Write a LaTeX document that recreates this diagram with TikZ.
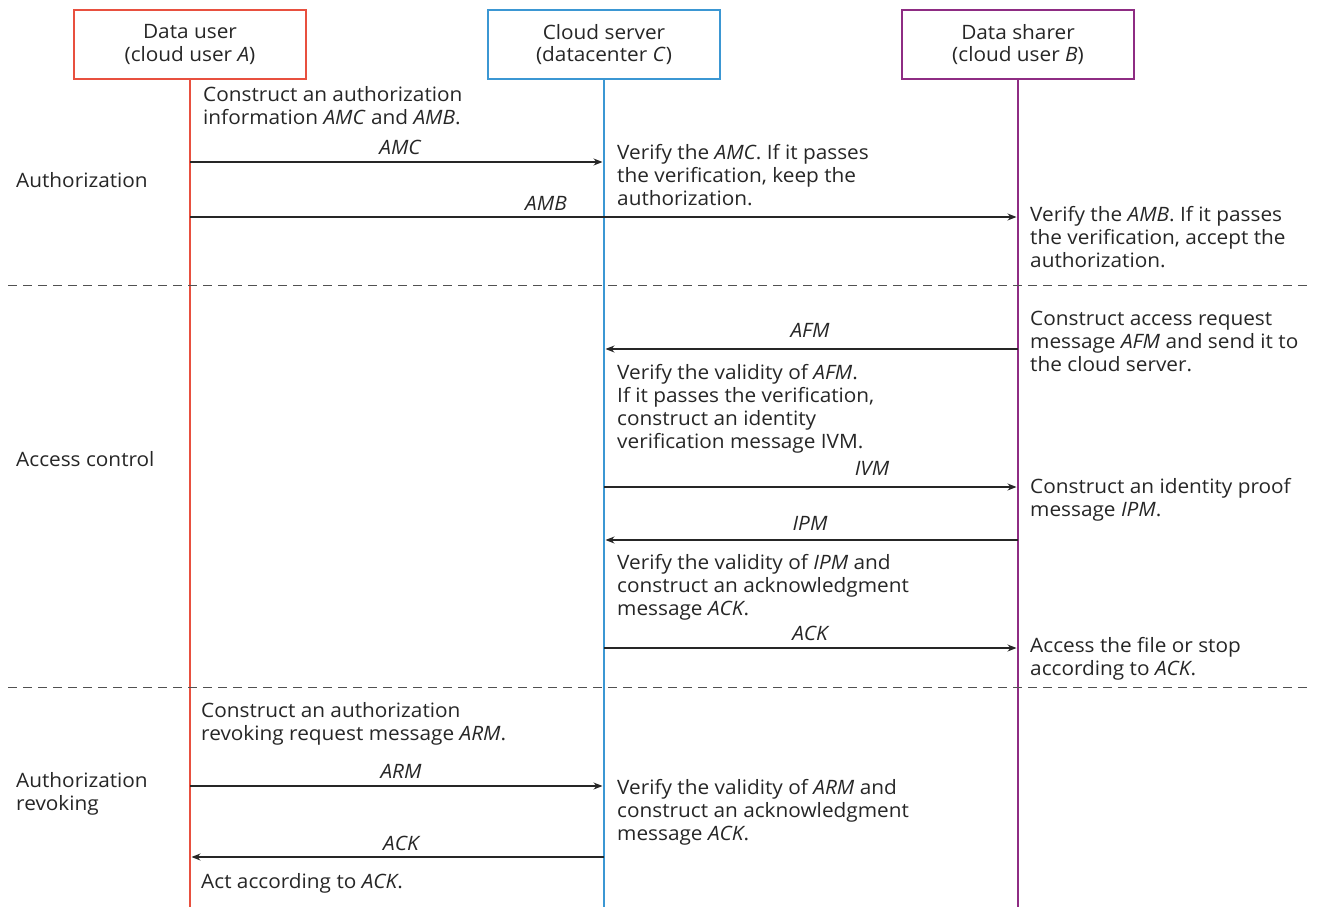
\documentclass[tikz,border=0pt]{standalone}
\usepackage{fontspec}
\setmainfont{Open Sans}[FakeStretch=1.05]
\usetikzlibrary{arrows.meta}
\definecolor{cred}{HTML}{E8503F}
\definecolor{cblue}{HTML}{3B97D3}
\definecolor{cpurp}{HTML}{8E2C83}
\definecolor{ctext}{HTML}{262626}
\newcommand{\mainfs}{\fontsize{19.8}{22.7}\selectfont}
\tikzset{
  actor/.style={draw=#1, line width=2.6pt, minimum width=232pt, minimum height=69pt, align=center, inner sep=0pt, text=ctext},
  life/.style={draw=#1, line width=2pt},
  txt/.style={anchor=base west, align=left, inner sep=0pt, text=ctext},
  lbl/.style={anchor=base, inner sep=0pt, text=ctext, font=\mainfs\itshape},
  msg/.style={draw=ctext, line width=1.1pt, -{Stealth[length=9pt,width=7pt]}, shorten >=1.5pt},
  sep/.style={draw=ctext!80, line width=1pt, dash pattern=on 9pt off 6pt},
}
\begin{document}
\begin{tikzpicture}[x=1pt,y=-1pt, font=\mainfs]
\useasboundingbox (0,0) rectangle (1317,907);
% actors
\node[actor=cred] (A) at (190,44.5) {Data user\\(cloud user \textit{A})};
\node[actor=cblue] (C) at (604,44.5) {Cloud server\\(datacenter \textit{C})};
\node[actor=cpurp] (B) at (1018,44.5) {Data sharer\\(cloud user \textit{B})};
\coordinate (Aend) at (190,907);
\coordinate (Cend) at (604,907);
\coordinate (Bend) at (1018,907);
\draw[life=cred] (A.south) -- (Aend);
\draw[life=cblue] (C.south) -- (Cend);
\draw[life=cpurp] (B.south) -- (Bend);
% separators
\coordinate (s1l) at (8,285); \coordinate (s1r) at (1308,285);
\coordinate (s2l) at (8,687); \coordinate (s2r) at (1308,687);
\draw[sep] (s1l) -- (s1r);
\draw[sep] (s2l) -- (s2r);
% phase labels (position = baseline of last line)
\node[txt] (p1) at (16,187) {Authorization};
\node[txt] (p2) at (16,466) {Access control};
\node[txt] (p3) at (16,810) {Authorization\\revoking};
% messages coordinates
\coordinate (m1a) at (190,162); \coordinate (m1c) at (604,162);
\coordinate (m2a) at (190,217); \coordinate (m2b) at (1018,217);
\coordinate (m3b) at (1018,349); \coordinate (m3c) at (604,349);
\coordinate (m4c) at (604,487); \coordinate (m4b) at (1018,487);
\coordinate (m5b) at (1018,540); \coordinate (m5c) at (604,540);
\coordinate (m6c) at (604,648); \coordinate (m6b) at (1018,648);
\coordinate (m7a) at (190,786); \coordinate (m7c) at (604,786);
\coordinate (m8c) at (604,857); \coordinate (m8a) at (190,857);
\draw[msg] (m1a) -- (m1c);
\draw[msg] (m2a) -- (m2b);
\draw[msg] (m3b) -- (m3c);
\draw[msg] (m4c) -- (m4b);
\draw[msg] (m5b) -- (m5c);
\draw[msg] (m6c) -- (m6b);
\draw[msg] (m7a) -- (m7c);
\draw[msg] (m8c) -- (m8a);
% message labels
\node[lbl] (l1) at (400,154) {AMC};
\node[lbl] (l2) at (546,210) {AMB};
\node[lbl] (l3) at (810,337) {AFM};
\node[lbl] (l4) at (872,475) {IVM};
\node[lbl] (l5) at (810,530) {IPM};
\node[lbl] (l6) at (810,640) {ACK};
\node[lbl] (l7) at (401,778) {ARM};
\node[lbl] (l8) at (401,850) {ACK};
% actions (position = baseline of last line)
\node[txt] (t1) at (203,124) {Construct an authorization\\information \textit{AMC} and \textit{AMB}.};
\node[txt] (t2) at (617,205) {Verify the \textit{AMC}. If it passes\\the verification, keep the\\authorization.};
\node[txt] (t3) at (1030,267) {Verify the \textit{AMB}. If it passes\\the verification, accept the\\authorization.};
\node[txt] (t4) at (1030,371) {Construct access request\\message \textit{AFM} and send it to\\the cloud server.};
\node[txt] (t5) at (617,448) {Verify the validity of \textit{AFM}.\\If it passes the verification,\\construct an identity\\verification message IVM.};
\node[txt] (t6) at (1030,516) {Construct an identity proof\\message \textit{IPM}.};
\node[txt] (t7) at (617,615) {Verify the validity of \textit{IPM} and\\construct an acknowledgment\\message \textit{ACK}.};
\node[txt] (t8) at (1030,675) {Access the file or stop\\according to \textit{ACK}.};
\node[txt] (t9) at (201,740) {Construct an authorization\\revoking request message \textit{ARM}.};
\node[txt] (t10) at (617,840) {Verify the validity of \textit{ARM} and\\construct an acknowledgment\\message \textit{ACK}.};
\node[txt] (t11) at (201,888) {Act according to \textit{ACK}.};
\end{tikzpicture}
\end{document}
